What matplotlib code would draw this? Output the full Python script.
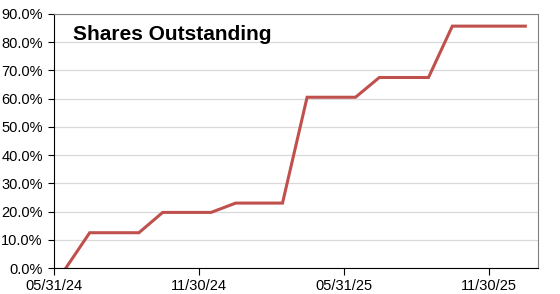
import numpy as np
import pandas as pd
import matplotlib
matplotlib.use("Agg")
import matplotlib.pyplot as plt
import matplotlib.dates as mdates
from matplotlib.ticker import PercentFormatter

plt.rcParams['font.family'] = ['Liberation Sans', 'DejaVu Sans']

# monthly observations (plotted mid-month)
months = ["2024-06", "2024-07", "2024-08", "2024-09", "2024-10", "2024-11",
          "2024-12", "2025-01", "2025-02", "2025-03", "2025-04", "2025-05",
          "2025-06", "2025-07", "2025-08", "2025-09", "2025-10", "2025-11",
          "2025-12", "2026-01"]
shares_pct = [0.0, 12.5, 12.5, 12.5, 19.7, 19.7, 19.7, 23.0, 23.0, 23.0,
              60.5, 60.5, 60.5, 67.5, 67.5, 67.5, 85.7, 85.7, 85.7, 85.7]
tick_dates = ["2024-05-31", "2024-11-30", "2025-05-31", "2025-11-30"]
x_range = ["2024-05-31", "2026-01-31"]
title = "Shares Outstanding"

dates = pd.to_datetime(months) + pd.Timedelta(days=14)

fig = plt.figure(figsize=(5.6, 2.94), dpi=100)
ax = fig.add_axes([0.0964, 0.0884, 0.8643, 0.864])

ax.plot(dates, shares_pct, color='#c0504d', lw=2.2, solid_joinstyle='miter')

ax.set_ylim(0, 90)
ax.set_yticks(np.arange(0, 91, 10))
ax.yaxis.set_major_formatter(PercentFormatter(decimals=1))
ax.grid(axis='y', color='#d9d9d9', lw=0.9)
ax.set_axisbelow(True)

ax.set_xlim(pd.to_datetime(x_range))
ax.set_xticks(pd.to_datetime(tick_dates))
ax.xaxis.set_major_formatter(mdates.DateFormatter('%m/%d/%y'))

for s in ['top', 'right']:
    ax.spines[s].set_color('#808080')
for s in ['left', 'bottom']:
    ax.spines[s].set_color('black')

ax.tick_params(axis='y', length=4, width=0.8, pad=4, labelsize=10.5)
ax.tick_params(axis='x', length=5, width=0.8, pad=3, labelsize=10.5)

ax.text(0.039, 0.898, title, transform=ax.transAxes, fontsize=15,
        fontweight='bold', va='baseline', ha='left')

fig.savefig('out.png', dpi=100)
